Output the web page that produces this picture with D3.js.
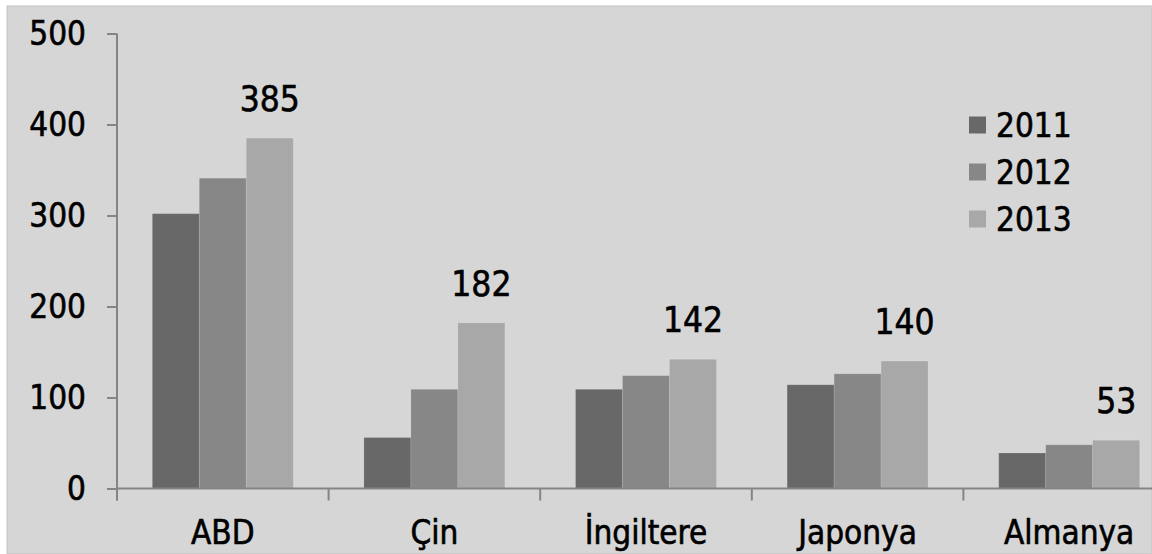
<!DOCTYPE html>
<html>
<head>
<meta charset="utf-8">
<script src="https://cdn.jsdelivr.net/npm/d3@7"></script>
<style>
  html, body { margin: 0; padding: 0; background: #ffffff; }
  svg { display: block; }
  text { font-family: "DejaVu Sans Condensed", "DejaVu Sans", sans-serif; font-stretch: condensed; fill: #000; stroke: #000; stroke-width: 0.6px; }
</style>
</head>
<body>
<svg id="chart" width="1152" height="554"></svg>
<script>
// Categories, series and values
const countries = ["ABD", "Çin", "İngiltere", "Japonya", "Almanya"];
const years = ["2011", "2012", "2013"];
const values2011 = [302, 56, 109, 114, 39];
const values2012 = [341, 109, 124, 126, 48];
const values2013 = [385, 182, 142, 140, 53];
const yTicks = [0, 100, 200, 300, 400, 500];
const yearColors = ["#686868", "#878787", "#a8a8a8"];

const series = [values2011, values2012, values2013];

const svg = d3.select("#chart");
const W = 1152, H = 554;

// Chart panel
svg.append("rect")
  .attr("x", 7).attr("y", 6)
  .attr("width", W - 7).attr("height", H - 6)
  .attr("fill", "#d6d6d6")
  .attr("stroke", "#c4c4c4").attr("stroke-width", 1);

// Scales
const x = d3.scaleBand().domain(countries).range([117, 1175]).paddingInner(0).paddingOuter(0);
const xs = d3.scaleBand().domain(years).range([0, x.bandwidth()]).paddingInner(0).paddingOuter(0.752);
const y = d3.scaleLinear().domain([0, 500]).range([488.5, 33.5]);
const color = d3.scaleOrdinal().domain(years).range(yearColors);

// Bars
const rows = countries.map((c, i) => ({ country: c, vals: years.map((yr, j) => ({ year: yr, value: series[j][i] })) }));

const groups = svg.append("g").selectAll("g")
  .data(rows).join("g")
  .attr("transform", d => `translate(${x(d.country)},0)`);

groups.selectAll("rect")
  .data(d => d.vals).join("rect")
  .attr("x", d => xs(d.year))
  .attr("width", xs.bandwidth())
  .attr("y", d => y(d.value))
  .attr("height", d => y(0) - y(d.value))
  .attr("fill", d => color(d.year))
  .attr("stroke", "rgba(255,255,255,0.12)")
  .attr("stroke-width", 1);

// Value labels on the 2013 bars
groups.append("text")
  .attr("x", xs("2013") + xs.bandwidth() / 2)
  .attr("y", d => y(d.vals[2].value) - 27)
  .attr("text-anchor", "middle")
  .attr("font-size", 35)
  .text(d => d.vals[2].value);

// Y axis
const yAxis = d3.axisLeft(y).tickValues(yTicks).tickSize(10).tickSizeOuter(0).tickPadding(21);
const gy = svg.append("g").attr("transform", "translate(117,0)").call(yAxis);
gy.select(".domain").remove();
gy.append("line").attr("x1", 0).attr("x2", 0).attr("y1", y(500)).attr("y2", y(0) + 12)
  .attr("stroke", "#858585").attr("stroke-width", 2);
gy.selectAll(".tick line").attr("stroke", "#858585").attr("stroke-width", 2);
gy.selectAll(".tick text").attr("font-size", 33).attr("fill", "#000")
  .attr("font-family", "'DejaVu Sans Condensed', 'DejaVu Sans', sans-serif");

// X axis
const gx = svg.append("g").attr("transform", `translate(0,${y(0)})`);
gx.append("line").attr("x1", 117).attr("x2", W).attr("y1", 0).attr("y2", 0)
  .attr("stroke", "#858585").attr("stroke-width", 2);
gx.selectAll(".sep").data(countries).join("line")
  .attr("class", "sep")
  .attr("x1", d => x(d)).attr("x2", d => x(d))
  .attr("y1", 0).attr("y2", 12)
  .attr("stroke", "#858585").attr("stroke-width", 2);
gx.selectAll(".cat").data(countries).join("text")
  .attr("class", "cat")
  .attr("x", d => x(d) + x.bandwidth() / 2)
  .attr("y", 55)
  .attr("text-anchor", "middle")
  .attr("font-size", 33)
  .text(d => d);

// Legend
const legend = svg.append("g").attr("transform", "translate(969,0)");
const legendY = d3.scalePoint().domain(years).range([125, 219]);
const items = legend.selectAll("g").data(years).join("g")
  .attr("transform", d => `translate(0,${legendY(d)})`);
items.append("rect")
  .attr("x", 0).attr("y", -8.5).attr("width", 17).attr("height", 17)
  .attr("fill", d => color(d));
items.append("text")
  .attr("x", 27).attr("y", 12)
  .attr("font-size", 33)
  .text(d => d);
</script>
</body>
</html>
